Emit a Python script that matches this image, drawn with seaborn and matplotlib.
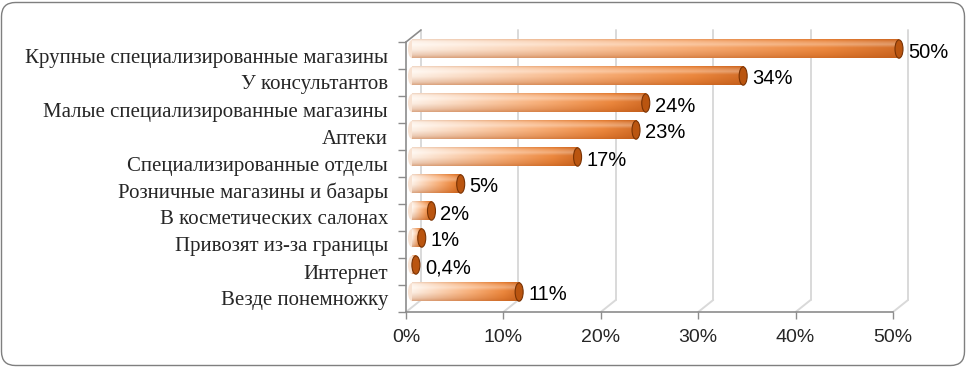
import numpy as np
import pandas as pd
import matplotlib
matplotlib.use("Agg")
import matplotlib.pyplot as plt
import seaborn as sns
from matplotlib.transforms import ScaledTranslation, blended_transform_factory, IdentityTransform
from matplotlib.patches import Ellipse, FancyBboxPatch
from matplotlib.colors import to_rgb

# ---------------- data ----------------
categories = [
    "Крупные специализированные магазины",
    "У консультантов",
    "Малые специализированные магазины",
    "Аптеки",
    "Специализированные отделы",
    "Розничные магазины и базары",
    "В косметических салонах",
    "Привозят из-за границы",
    "Интернет",
    "Везде понемножку",
]
values = [50, 34, 24, 23, 17, 5, 2, 1, 0.4, 11]
value_labels = ["50%", "34%", "24%", "23%", "17%", "5%", "2%", "1%", "0,4%", "11%"]
x_ticks = [0, 10, 20, 30, 40, 50]
x_tick_labels = ["0%", "10%", "20%", "30%", "40%", "50%"]

# ---------------- style ----------------
sns.set_theme(style="white")
plt.rcParams["font.family"] = ["Liberation Sans", "DejaVu Sans"]

W, H = 967, 367
DPI = 100
fig = plt.figure(figsize=(W / DPI, H / DPI), dpi=DPI)
fig.patch.set_facecolor("white")

AX_L, AX_R, AX_T, AX_B = 406, 893, 42, 312
ax = fig.add_axes([AX_L / W, 1 - AX_B / H, (AX_R - AX_L) / W, (AX_B - AX_T) / H])

df = pd.DataFrame({"cat": categories, "val": values})
sns.barplot(data=df, x="val", y="cat", orient="h", width=0.68, color="white", ax=ax, zorder=3)

XMAX = 50
ax.set_xlim(0, XMAX)
ax.set_ylim(len(categories) - 0.5, -0.5)

px_per_x = (AX_R - AX_L) / XMAX
px_per_ax_y = (AX_B - AX_T)

# depth offsets (pixels)
WALL_DX, WALL_DY = 15, 12
BAR_DX, BAR_DY = 6, 6.5
CAP_PX = 8

bar_trans = ax.transData + ScaledTranslation(BAR_DX / DPI, BAR_DY / DPI, fig.dpi_scale_trans)
blend = blended_transform_factory(ax.transData, ax.transAxes)
wall_trans = blend + ScaledTranslation(WALL_DX / DPI, WALL_DY / DPI, fig.dpi_scale_trans)

grid_c = "#D9D9D9"
axis_c = "#8C8C8C"

# back wall gridlines and floor diagonals
dx_data = WALL_DX / px_per_x
dy_ax = WALL_DY / px_per_ax_y
for t in x_ticks:
    ax.plot([t, t], [0, 1], transform=wall_trans, color=grid_c, lw=1.4, zorder=0, clip_on=False)
    ax.plot([t, t + dx_data], [0, dy_ax], transform=blend, color=grid_c, lw=1.4, zorder=0, clip_on=False)
# top-left diagonal
ax.plot([0, dx_data], [1, 1 + dy_ax], transform=blend, color=axis_c, lw=1.2, zorder=1, clip_on=False)

# gradient image for cylinders
gw, gh = 256, 64
t = np.linspace(0, 1, gw)
stops = [0.0, 0.2, 0.55, 0.85, 1.0]
cols = np.array([to_rgb(c) for c in ["#FFF5EC", "#FDDBC1", "#F9AD74", "#EC8234", "#D2661C"]])
base = np.stack([np.interp(t, stops, cols[:, k]) for k in range(3)], axis=-1)  # gw x 3
v = np.linspace(0, 1, gh)
dark = np.array(to_rgb("#B5561A"))
s = np.interp(v, [0, 0.1, 0.3, 0.55, 0.85, 1.0], [0.22, 0.05, 0.0, 0.05, 0.28, 0.5])
hl = np.interp(v, [0, 0.15, 0.28, 0.45, 1.0], [0.0, 0.22, 0.35, 0.06, 0.0])
img = base[None, :, :] * (1 - s[:, None, None]) + dark[None, None, :] * s[:, None, None]
img = img * (1 - hl[:, None, None]) + hl[:, None, None]
img = np.clip(img, 0, 1)

cap_w = CAP_PX / px_per_x
for p, lab in zip(ax.patches, value_labels):
    x0, y0, w, h = p.get_x(), p.get_y(), p.get_width(), p.get_height()
    p.set_visible(False)
    yc = y0 + h / 2
    # left rounded end
    ax.add_patch(Ellipse((x0, yc), cap_w, h, facecolor="#F8E2D2", edgecolor="none",
                         transform=bar_trans, zorder=2, clip_on=False))
    ax.imshow(img, extent=(x0, x0 + w, y0 + h, y0), aspect="auto", origin="upper",
              transform=bar_trans, zorder=3, interpolation="bilinear", clip_on=False)
    # right cap
    ax.add_patch(Ellipse((x0 + w, yc), cap_w, h, facecolor="#BA5510", edgecolor="#7A3304",
                         lw=0.8, transform=bar_trans, zorder=4, clip_on=False))
    ax.text(x0 + w + cap_w / 2, yc, lab,
            transform=bar_trans + ScaledTranslation(5 / DPI, -3 / DPI, fig.dpi_scale_trans),
            ha="left", va="center", fontsize=14.5, color="black", zorder=5, clip_on=False)

ax.set_xlim(0, XMAX)
ax.set_ylim(len(categories) - 0.5, -0.5)

# axes styling
for sp in ["top", "right"]:
    ax.spines[sp].set_visible(False)
for sp in ["left", "bottom"]:
    ax.spines[sp].set_color(axis_c)
    ax.spines[sp].set_linewidth(1.2)
    ax.spines[sp].set_zorder(1)

ax.set_xticks(x_ticks)
ax.set_xticklabels(x_tick_labels, fontsize=14)
ax.tick_params(axis="x", which="major", length=5, width=1, color=axis_c, pad=7, direction="out", bottom=True)

ax.set_yticks(range(len(categories)))
ax.set_yticklabels(categories, fontsize=15, family=["Liberation Serif", "DejaVu Serif"])
ax.set_yticks(np.arange(-0.5, len(categories), 1.0), minor=True)
ax.tick_params(axis="y", which="major", length=0, pad=13, left=False)
ax.tick_params(axis="y", which="minor", length=6, width=1, color=axis_c, direction="out", left=True)
ax.set_xlabel("")
ax.set_ylabel("")
ax.set_facecolor("none")
ax.grid(False)

# outer rounded border
border = FancyBboxPatch((1.5, 1.5), W - 4, H - 4, boxstyle="round,pad=0,rounding_size=14",
                        transform=IdentityTransform(), facecolor="none", edgecolor="#7F7F7F", lw=1.0, zorder=-1)
fig.add_artist(border)

fig.savefig("out.png", dpi=DPI)
